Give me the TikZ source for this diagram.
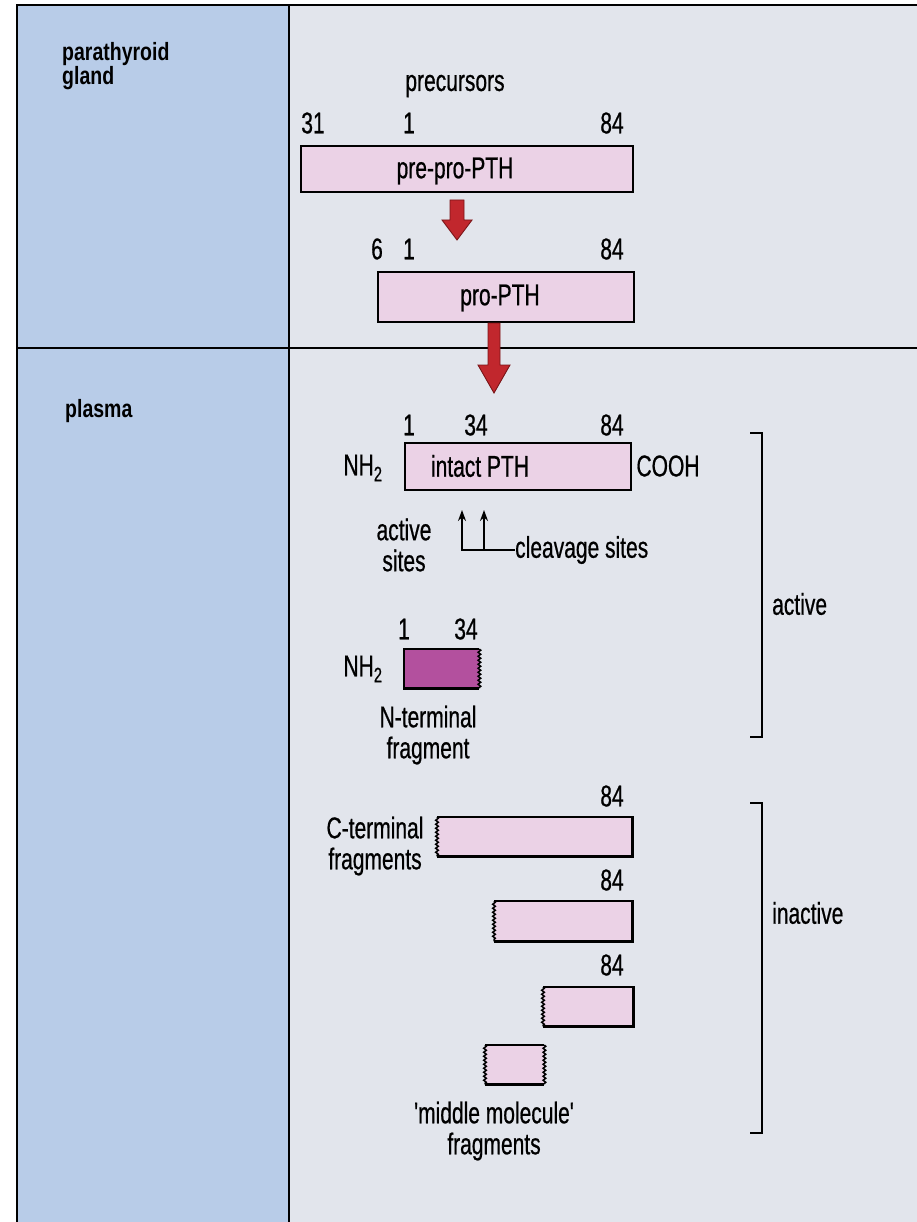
\documentclass[tikz,border=0pt]{standalone}
\usepackage{fontspec}
\usetikzlibrary{arrows.meta,decorations.pathmorphing,calc}
\newfontfamily\lab[FakeStretch=0.70,FakeBold=0.6]{Liberation Sans}
\newfontfamily\hdr[FakeStretch=0.78]{Liberation Sans}
\definecolor{leftblue}{HTML}{B8CCE8}
\definecolor{rightgrey}{HTML}{E2E5EC}
\definecolor{boxpink}{HTML}{EBD2E6}
\definecolor{boxmag}{HTML}{B3509E}
\definecolor{arrred}{HTML}{C1272D}
\definecolor{arrdark}{HTML}{7A1518}
\tikzset{
  lbl/.style={font=\lab\fontsize{30}{31}\selectfont, inner sep=0pt, align=center, text=black},
  hdrtxt/.style={font=\hdr\bfseries\fontsize{25}{23}\selectfont, inner sep=0pt, align=left, anchor=north west},
  pbox/.style={fill=boxpink, draw=black, line width=2.2pt, inner sep=0pt, anchor=north west},
  pfill/.style={fill=boxpink, draw=none, inner sep=0pt, anchor=north west},
  edge/.style={draw=black, line width=2.2pt},
  wavy/.style={draw=black, line width=1.5pt, decorate, decoration={snake, amplitude=1.3pt, segment length=4pt}},
  brk/.style={draw=black, line width=2.2pt},
  redarr/.style={fill=arrred, draw=arrdark, line width=0.9pt},
  small/.style={-{Stealth[length=11pt,width=8pt]}, line width=1.7pt}
}
\begin{document}
\begin{tikzpicture}[x=1pt,y=-1pt]
\useasboundingbox (0,0) rectangle (917,1222);
% panels
\fill[white] (0,0) rectangle (917,1222);
\fill[leftblue] (17,5) rectangle (289,1222);
\fill[rightgrey] (289,5) rectangle (917,1222);
\draw[line width=1.5pt] (17,1222) -- (17,5) -- (917,5);
\draw[line width=1.2pt] (289,5) -- (289,1222);
\draw[line width=2.4pt] (17,348) -- (917,348);
% headers
\node[hdrtxt] (hpg) at (62,42) {parathyroid\\gland};
\node[hdrtxt] (hpl) at (65,399) {plasma};
% pre-pro-PTH
\node[lbl] (prec) at (455,86) {precursors};
\node[lbl] (n31) at (313,123) {31};
\node[lbl] (n1a) at (409,123) {1};
\node[lbl] (n84a) at (612,123) {84};
\node[pbox, minimum width=332pt, minimum height=46pt] (ppp) at (300,145) {};
\node[lbl] (ppptxt) at (455,171) {pre-pro-PTH};
% arrow 1
\coordinate (a1s) at (457,200);
\coordinate (a1t) at (457,240);
\path[redarr] ($(a1s)+(-7,0)$) -- ($(a1s)+(7,0)$) -- ($(a1t)+(7,-20)$) -- ($(a1t)+(15,-20)$) -- (a1t) -- ($(a1t)+(-15,-20)$) -- ($(a1t)+(-7,-20)$) -- cycle;
% pro-PTH
\node[lbl] (n6) at (377,249) {6};
\node[lbl] (n1b) at (409,249) {1};
\node[lbl] (n84b) at (612,249) {84};
\node[pbox, minimum width=256pt, minimum height=50pt] (pro) at (377,271) {};
\node[lbl] (protxt) at (500,298) {pro-PTH};
% arrow 2
\coordinate (a2s) at (494,323);
\coordinate (a2t) at (494,393);
\path[redarr] ($(a2s)+(-6,0)$) -- ($(a2s)+(6,0)$) -- ($(a2t)+(6,-28)$) -- ($(a2t)+(16,-28)$) -- (a2t) -- ($(a2t)+(-16,-28)$) -- ($(a2t)+(-6,-28)$) -- cycle;
% intact PTH
\node[lbl] (n1c) at (409,425) {1};
\node[lbl] (n34c) at (476,425) {34};
\node[lbl] (n84c) at (612,425) {84};
\node[pbox, minimum width=226pt, minimum height=47pt] (intact) at (404,442) {};
\node[lbl] (inttxt) at (480,466) {intact PTH};
\node[lbl] (nh2a) at (363,468) {NH\textsubscript{2}};
\node[lbl] (cooh) at (668,466) {COOH};
\node[lbl] (act) at (404,545) {active\\sites};
\node[lbl, anchor=west] (cleav) at (515,550) {cleavage sites};
\coordinate (c1) at (462,510);
\coordinate (c2) at (484,510);
\draw[small] (cleav.west) -| (c1);
\draw[small] (cleav.west -| c2) -- (c2);
% N-terminal fragment
\node[lbl] (n1d) at (404,629) {1};
\node[lbl] (n34d) at (466,629) {34};
\node[fill=boxmag, draw=none, inner sep=0pt, anchor=north west, minimum width=75pt, minimum height=39pt] (nfrag) at (404,649) {};
\draw[edge] (nfrag.north east) -- (nfrag.north west) -- (nfrag.south west) -- (nfrag.south east);
\draw[wavy] (nfrag.north east) -- (nfrag.south east);
\node[lbl] (nh2b) at (363,669) {NH\textsubscript{2}};
\node[lbl] (nterm) at (428,735) {N-terminal\\fragment};
% brackets
\draw[brk] (750,433) -- (762,433) -- (762,737) -- (750,737);
\node[lbl, anchor=west] (actv) at (772,604) {active};
\draw[brk] (750,803) -- (762,803) -- (762,1133) -- (750,1133);
\node[lbl, anchor=west] (inact) at (772,913) {inactive};
% C-terminal fragments
\node[lbl] (n84e) at (612,796) {84};
\node[pfill, minimum width=195pt, minimum height=39pt] (cf1) at (437,817) {};
\draw[edge] (cf1.north west) -- (cf1.north east) -- (cf1.south east) -- (cf1.south west);
\draw[wavy] (cf1.north west) -- (cf1.south west);
\node[lbl] (cterm) at (375,846) {C-terminal\\fragments};
\node[lbl] (n84f) at (612,880) {84};
\node[pfill, minimum width=138pt, minimum height=40pt] (cf2) at (494,901) {};
\draw[edge] (cf2.north west) -- (cf2.north east) -- (cf2.south east) -- (cf2.south west);
\draw[wavy] (cf2.north west) -- (cf2.south west);
\node[lbl] (n84g) at (612,965) {84};
\node[pfill, minimum width=90pt, minimum height=39pt] (cf3) at (543,987) {};
\draw[edge] (cf3.north west) -- (cf3.north east) -- (cf3.south east) -- (cf3.south west);
\draw[wavy] (cf3.north west) -- (cf3.south west);
% middle molecule
\node[pfill, minimum width=59pt, minimum height=39pt] (mm) at (485,1045) {};
\draw[edge] (mm.north west) -- (mm.north east);
\draw[edge] (mm.south west) -- (mm.south east);
\draw[wavy] (mm.north west) -- (mm.south west);
\draw[wavy] (mm.north east) -- (mm.south east);
\node[lbl] (mmtxt) at (494,1131) {'middle molecule'\\fragments};
\end{tikzpicture}
\end{document}
